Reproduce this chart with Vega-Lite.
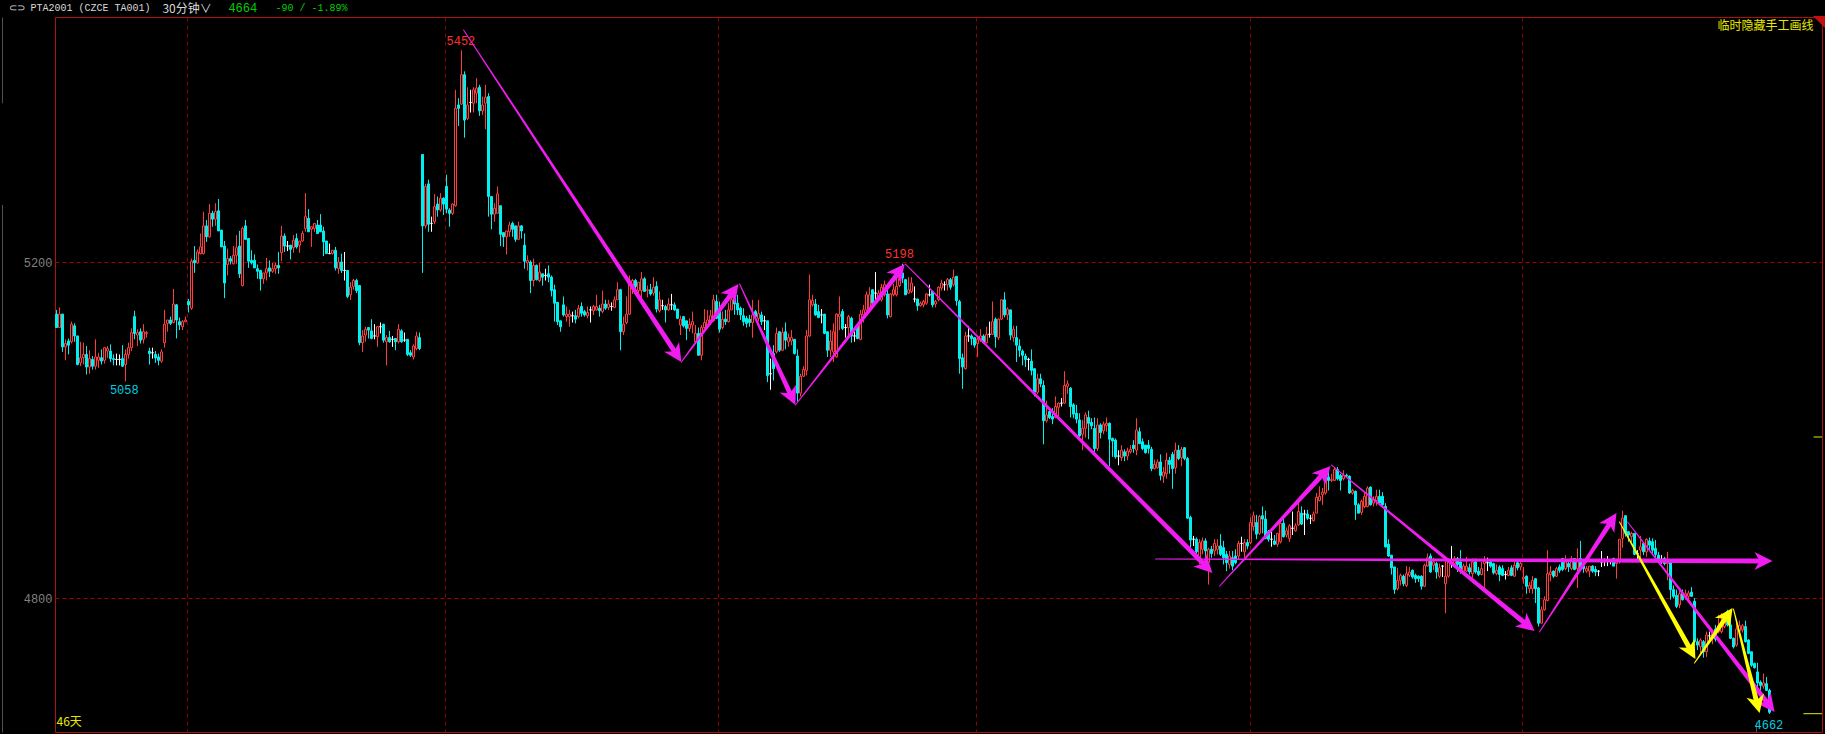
{"$schema":"https://vega.github.io/schema/vega-lite/v6.json","width":1767,"height":715,"autosize":"none","padding":{"left":55,"top":17,"right":3,"bottom":2},"background":"#000000","config":{"view":{"stroke":"#b01010","strokeWidth":1}},"resolve":{"scale":{"color":"independent"}},
"datasets":{"bars":[
{"t":0,"o":5138,"h":5143,"l":5122,"c":5122},{"t":1,"o":5122,"h":5146,"l":5122,"c":5138},{"t":2,"o":5138,"h":5138,"l":5093,"c":5099},{"t":3,"o":5099,"h":5108,"l":5083,"c":5103},{"t":4,"o":5106,"h":5109,"l":5090,"c":5101},{"t":5,"o":5105,"h":5129,"l":5103,"c":5126},{"t":6,"o":5124,"h":5127,"l":5105,"c":5112},{"t":7,"o":5112,"h":5112,"l":5077,"c":5078},{"t":8,"o":5080,"h":5105,"l":5076,"c":5086},{"t":9,"o":5086,"h":5104,"l":5078,"c":5090},
{"t":10,"o":5090,"h":5100,"l":5066,"c":5075},{"t":11,"o":5075,"h":5095,"l":5067,"c":5085},{"t":12,"o":5084,"h":5088,"l":5072,"c":5076},{"t":13,"o":5076,"h":5108,"l":5072,"c":5087},{"t":14,"o":5083,"h":5092,"l":5074,"c":5087},{"t":15,"o":5086,"h":5096,"l":5078,"c":5082},{"t":16,"o":5083,"h":5099,"l":5079,"c":5098},{"t":17,"o":5094,"h":5100,"l":5086,"c":5097},{"t":18,"o":5094,"h":5102,"l":5081,"c":5085},{"t":19,"o":5085,"h":5090,"l":5077,"c":5084},
{"t":20,"o":5084,"h":5091,"l":5077,"c":5084},{"t":21,"o":5084,"h":5090,"l":5077,"c":5084},{"t":22,"o":5085,"h":5101,"l":5075,"c":5076},{"t":23,"o":5078,"h":5096,"l":5058,"c":5090},{"t":24,"o":5090,"h":5104,"l":5085,"c":5098},{"t":25,"o":5098,"h":5121,"l":5094,"c":5116},{"t":26,"o":5135,"h":5142,"l":5108,"c":5115},{"t":27,"o":5113,"h":5120,"l":5100,"c":5116},{"t":28,"o":5117,"h":5121,"l":5103,"c":5107},{"t":29,"o":5108,"h":5126,"l":5103,"c":5117},
{"t":30,"o":5115,"h":5118,"l":5110,"c":5116},{"t":31,"o":5094,"h":5098,"l":5078,"c":5091},{"t":32,"o":5092,"h":5098,"l":5085,"c":5092},{"t":33,"o":5090,"h":5094,"l":5080,"c":5086},{"t":34,"o":5087,"h":5091,"l":5077,"c":5083},{"t":35,"o":5082,"h":5096,"l":5080,"c":5093},{"t":36,"o":5104,"h":5143,"l":5098,"c":5126},{"t":37,"o":5127,"h":5131,"l":5117,"c":5131},{"t":38,"o":5131,"h":5135,"l":5125,"c":5127},{"t":39,"o":5128,"h":5168,"l":5127,"c":5150},
{"t":40,"o":5149,"h":5150,"l":5109,"c":5131},{"t":41,"o":5129,"h":5134,"l":5119,"c":5125},{"t":42,"o":5123,"h":5131,"l":5119,"c":5129},{"t":43,"o":5129,"h":5135,"l":5128,"c":5131},{"t":44,"o":5153,"h":5156,"l":5140,"c":5149},{"t":45,"o":5145,"h":5204,"l":5143,"c":5201},{"t":46,"o":5202,"h":5219,"l":5187,"c":5199},{"t":47,"o":5199,"h":5215,"l":5198,"c":5212},{"t":48,"o":5210,"h":5234,"l":5209,"c":5218},{"t":49,"o":5210,"h":5260,"l":5209,"c":5243},
{"t":50,"o":5243,"h":5250,"l":5224,"c":5230},{"t":51,"o":5230,"h":5269,"l":5229,"c":5258},{"t":52,"o":5258,"h":5261,"l":5242,"c":5251},{"t":53,"o":5251,"h":5270,"l":5243,"c":5260},{"t":54,"o":5261,"h":5275,"l":5237,"c":5237},{"t":55,"o":5238,"h":5238,"l":5218,"c":5218},{"t":56,"o":5219,"h":5225,"l":5157,"c":5175},{"t":57,"o":5197,"h":5216,"l":5184,"c":5204},{"t":58,"o":5204,"h":5207,"l":5197,"c":5201},{"t":59,"o":5198,"h":5219,"l":5197,"c":5208},
{"t":60,"o":5208,"h":5232,"l":5198,"c":5217},{"t":61,"o":5219,"h":5237,"l":5181,"c":5186},{"t":62,"o":5172,"h":5242,"l":5171,"c":5240},{"t":63,"o":5243,"h":5250,"l":5227,"c":5227},{"t":64,"o":5228,"h":5228,"l":5193,"c":5201},{"t":65,"o":5202,"h":5214,"l":5197,"c":5199},{"t":66,"o":5202,"h":5209,"l":5193,"c":5193},{"t":67,"o":5192,"h":5197,"l":5180,"c":5189},{"t":68,"o":5190,"h":5190,"l":5166,"c":5180},{"t":69,"o":5180,"h":5187,"l":5174,"c":5187},
{"t":70,"o":5187,"h":5205,"l":5178,"c":5192},{"t":71,"o":5193,"h":5202,"l":5182,"c":5189},{"t":72,"o":5189,"h":5199,"l":5187,"c":5192},{"t":73,"o":5192,"h":5199,"l":5186,"c":5196},{"t":74,"o":5196,"h":5212,"l":5186,"c":5193},{"t":75,"o":5211,"h":5243,"l":5201,"c":5231},{"t":76,"o":5231,"h":5234,"l":5212,"c":5219},{"t":77,"o":5219,"h":5225,"l":5213,"c":5219},{"t":78,"o":5220,"h":5220,"l":5203,"c":5215},{"t":79,"o":5217,"h":5232,"l":5211,"c":5226},
{"t":80,"o":5228,"h":5234,"l":5216,"c":5218},{"t":81,"o":5220,"h":5225,"l":5211,"c":5225},{"t":82,"o":5225,"h":5237,"l":5224,"c":5234},{"t":83,"o":5240,"h":5282,"l":5236,"c":5254},{"t":84,"o":5252,"h":5263,"l":5236,"c":5236},{"t":85,"o":5239,"h":5242,"l":5218,"c":5242},{"t":86,"o":5240,"h":5246,"l":5236,"c":5246},{"t":87,"o":5244,"h":5250,"l":5234,"c":5234},{"t":88,"o":5244,"h":5257,"l":5236,"c":5236},{"t":89,"o":5237,"h":5242,"l":5207,"c":5224},
{"t":90,"o":5225,"h":5225,"l":5210,"c":5210},{"t":91,"o":5210,"h":5222,"l":5210,"c":5210},{"t":92,"o":5210,"h":5214,"l":5209,"c":5214},{"t":93,"o":5214,"h":5218,"l":5190,"c":5193},{"t":94,"o":5192,"h":5206,"l":5186,"c":5200},{"t":95,"o":5200,"h":5210,"l":5187,"c":5190},{"t":96,"o":5190,"h":5212,"l":5178,"c":5190},{"t":97,"o":5190,"h":5190,"l":5157,"c":5159},{"t":98,"o":5161,"h":5176,"l":5155,"c":5170},{"t":99,"o":5171,"h":5180,"l":5167,"c":5178},
{"t":100,"o":5178,"h":5180,"l":5163,"c":5166},{"t":101,"o":5172,"h":5172,"l":5101,"c":5104},{"t":102,"o":5104,"h":5119,"l":5093,"c":5112},{"t":103,"o":5113,"h":5123,"l":5105,"c":5120},{"t":104,"o":5122,"h":5122,"l":5109,"c":5119},{"t":105,"o":5118,"h":5132,"l":5108,"c":5109},{"t":106,"o":5112,"h":5126,"l":5108,"c":5112},{"t":107,"o":5111,"h":5124,"l":5099,"c":5123},{"t":108,"o":5123,"h":5128,"l":5115,"c":5123},{"t":109,"o":5126,"h":5126,"l":5104,"c":5107},
{"t":110,"o":5105,"h":5113,"l":5077,"c":5110},{"t":111,"o":5110,"h":5118,"l":5104,"c":5105},{"t":112,"o":5108,"h":5112,"l":5099,"c":5108},{"t":113,"o":5109,"h":5109,"l":5095,"c":5105},{"t":114,"o":5105,"h":5126,"l":5103,"c":5120},{"t":115,"o":5118,"h":5120,"l":5104,"c":5105},{"t":116,"o":5107,"h":5116,"l":5105,"c":5107},{"t":117,"o":5108,"h":5108,"l":5088,"c":5090},{"t":118,"o":5092,"h":5095,"l":5087,"c":5089},{"t":119,"o":5087,"h":5102,"l":5084,"c":5100},
{"t":120,"o":5097,"h":5117,"l":5095,"c":5112},{"t":121,"o":5110,"h":5116,"l":5095,"c":5097},{"t":122,"o":5328,"h":5328,"l":5187,"c":5243},{"t":123,"o":5243,"h":5293,"l":5240,"c":5290},{"t":124,"o":5293,"h":5298,"l":5236,"c":5245},{"t":125,"o":5246,"h":5254,"l":5236,"c":5246},{"t":126,"o":5248,"h":5281,"l":5245,"c":5266},{"t":127,"o":5269,"h":5278,"l":5254,"c":5262},{"t":128,"o":5262,"h":5282,"l":5260,"c":5276},{"t":129,"o":5276,"h":5277,"l":5256,"c":5269},
{"t":130,"o":5290,"h":5304,"l":5258,"c":5263},{"t":131,"o":5262,"h":5264,"l":5242,"c":5258},{"t":132,"o":5258,"h":5270,"l":5256,"c":5269},{"t":133,"o":5267,"h":5405,"l":5266,"c":5383},{"t":134,"o":5387,"h":5395,"l":5362,"c":5383},{"t":135,"o":5388,"h":5452,"l":5387,"c":5423},{"t":136,"o":5423,"h":5427,"l":5348,"c":5369},{"t":137,"o":5371,"h":5408,"l":5369,"c":5387},{"t":138,"o":5390,"h":5405,"l":5378,"c":5390},{"t":139,"o":5389,"h":5408,"l":5378,"c":5405},
{"t":140,"o":5401,"h":5419,"l":5389,"c":5407},{"t":141,"o":5408,"h":5411,"l":5374,"c":5380},{"t":142,"o":5380,"h":5397,"l":5375,"c":5387},{"t":143,"o":5389,"h":5411,"l":5358,"c":5396},{"t":144,"o":5397,"h":5401,"l":5254,"c":5278},{"t":145,"o":5278,"h":5278,"l":5239,"c":5257},{"t":146,"o":5257,"h":5270,"l":5248,"c":5264},{"t":147,"o":5258,"h":5290,"l":5258,"c":5281},{"t":148,"o":5267,"h":5267,"l":5219,"c":5233},{"t":149,"o":5235,"h":5235,"l":5218,"c":5230},
{"t":150,"o":5230,"h":5237,"l":5209,"c":5237},{"t":151,"o":5236,"h":5248,"l":5230,"c":5244},{"t":152,"o":5246,"h":5248,"l":5230,"c":5239},{"t":153,"o":5243,"h":5243,"l":5224,"c":5227},{"t":154,"o":5227,"h":5248,"l":5226,"c":5243},{"t":155,"o":5243,"h":5244,"l":5228,"c":5237},{"t":156,"o":5220,"h":5234,"l":5192,"c":5201},{"t":157,"o":5199,"h":5208,"l":5190,"c":5202},{"t":158,"o":5200,"h":5202,"l":5163,"c":5178},{"t":159,"o":5178,"h":5204,"l":5171,"c":5196},
{"t":160,"o":5196,"h":5197,"l":5178,"c":5179},{"t":161,"o":5178,"h":5199,"l":5176,"c":5188},{"t":162,"o":5186,"h":5186,"l":5172,"c":5182},{"t":163,"o":5184,"h":5192,"l":5178,"c":5184},{"t":164,"o":5186,"h":5196,"l":5176,"c":5182},{"t":165,"o":5182,"h":5184,"l":5159,"c":5166},{"t":166,"o":5167,"h":5173,"l":5129,"c":5151},{"t":167,"o":5152,"h":5152,"l":5125,"c":5129},{"t":168,"o":5130,"h":5130,"l":5117,"c":5123},{"t":169,"o":5149,"h":5159,"l":5135,"c":5137},
{"t":170,"o":5135,"h":5147,"l":5129,"c":5138},{"t":171,"o":5135,"h":5143,"l":5123,"c":5138},{"t":172,"o":5136,"h":5141,"l":5128,"c":5136},{"t":173,"o":5136,"h":5143,"l":5127,"c":5132},{"t":174,"o":5135,"h":5149,"l":5133,"c":5145},{"t":175,"o":5147,"h":5152,"l":5135,"c":5139},{"t":176,"o":5141,"h":5143,"l":5135,"c":5137},{"t":177,"o":5136,"h":5147,"l":5133,"c":5140},{"t":178,"o":5143,"h":5147,"l":5128,"c":5143},{"t":179,"o":5142,"h":5149,"l":5137,"c":5147},
{"t":180,"o":5143,"h":5161,"l":5142,"c":5147},{"t":181,"o":5145,"h":5149,"l":5135,"c":5142},{"t":182,"o":5141,"h":5166,"l":5139,"c":5150},{"t":183,"o":5150,"h":5155,"l":5143,"c":5145},{"t":184,"o":5146,"h":5155,"l":5143,"c":5150},{"t":185,"o":5147,"h":5152,"l":5142,"c":5147},{"t":186,"o":5146,"h":5159,"l":5145,"c":5155},{"t":187,"o":5155,"h":5176,"l":5155,"c":5167},{"t":188,"o":5167,"h":5168,"l":5095,"c":5117},{"t":189,"o":5117,"h":5135,"l":5113,"c":5126},
{"t":190,"o":5128,"h":5159,"l":5126,"c":5138},{"t":191,"o":5138,"h":5184,"l":5137,"c":5176},{"t":192,"o":5172,"h":5180,"l":5162,"c":5178},{"t":193,"o":5178,"h":5180,"l":5168,"c":5171},{"t":194,"o":5166,"h":5176,"l":5163,"c":5176},{"t":195,"o":5166,"h":5188,"l":5155,"c":5180},{"t":196,"o":5180,"h":5182,"l":5165,"c":5165},{"t":197,"o":5166,"h":5172,"l":5158,"c":5167},{"t":198,"o":5167,"h":5174,"l":5160,"c":5162},{"t":199,"o":5163,"h":5182,"l":5160,"c":5170},
{"t":200,"o":5171,"h":5177,"l":5140,"c":5144},{"t":201,"o":5142,"h":5165,"l":5140,"c":5155},{"t":202,"o":5148,"h":5155,"l":5143,"c":5148},{"t":203,"o":5147,"h":5149,"l":5128,"c":5143},{"t":204,"o":5143,"h":5157,"l":5142,"c":5150},{"t":205,"o":5149,"h":5162,"l":5143,"c":5149},{"t":206,"o":5149,"h":5152,"l":5142,"c":5143},{"t":207,"o":5144,"h":5144,"l":5132,"c":5133},{"t":208,"o":5125,"h":5136,"l":5113,"c":5132},{"t":209,"o":5135,"h":5135,"l":5122,"c":5124},
{"t":210,"o":5130,"h":5130,"l":5107,"c":5121},{"t":211,"o":5121,"h":5133,"l":5117,"c":5126},{"t":212,"o":5125,"h":5141,"l":5115,"c":5129},{"t":213,"o":5105,"h":5125,"l":5105,"c":5115},{"t":214,"o":5115,"h":5122,"l":5089,"c":5089},{"t":215,"o":5089,"h":5125,"l":5083,"c":5122},{"t":216,"o":5122,"h":5144,"l":5121,"c":5128},{"t":217,"o":5124,"h":5143,"l":5121,"c":5131},{"t":218,"o":5129,"h":5143,"l":5125,"c":5136},{"t":219,"o":5130,"h":5161,"l":5129,"c":5155},
{"t":220,"o":5153,"h":5161,"l":5132,"c":5133},{"t":221,"o":5143,"h":5153,"l":5116,"c":5120},{"t":222,"o":5122,"h":5141,"l":5120,"c":5132},{"t":223,"o":5132,"h":5143,"l":5125,"c":5129},{"t":224,"o":5129,"h":5151,"l":5128,"c":5143},{"t":225,"o":5143,"h":5163,"l":5143,"c":5155},{"t":226,"o":5158,"h":5169,"l":5137,"c":5150},{"t":227,"o":5151,"h":5161,"l":5137,"c":5143},{"t":228,"o":5145,"h":5147,"l":5131,"c":5137},{"t":229,"o":5136,"h":5145,"l":5124,"c":5129},
{"t":230,"o":5133,"h":5136,"l":5122,"c":5127},{"t":231,"o":5132,"h":5137,"l":5123,"c":5128},{"t":232,"o":5128,"h":5155,"l":5110,"c":5137},{"t":233,"o":5141,"h":5143,"l":5133,"c":5135},{"t":234,"o":5133,"h":5155,"l":5129,"c":5139},{"t":235,"o":5137,"h":5141,"l":5125,"c":5129},{"t":236,"o":5130,"h":5136,"l":5119,"c":5130},{"t":237,"o":5130,"h":5130,"l":5057,"c":5065},{"t":238,"o":5067,"h":5085,"l":5048,"c":5067},{"t":239,"o":5091,"h":5101,"l":5059,"c":5073},
{"t":240,"o":5093,"h":5122,"l":5091,"c":5115},{"t":241,"o":5117,"h":5117,"l":5093,"c":5095},{"t":242,"o":5095,"h":5122,"l":5094,"c":5116},{"t":243,"o":5117,"h":5128,"l":5096,"c":5107},{"t":244,"o":5105,"h":5115,"l":5099,"c":5110},{"t":245,"o":5106,"h":5119,"l":5101,"c":5110},{"t":246,"o":5108,"h":5108,"l":5090,"c":5091},{"t":247,"o":5088,"h":5096,"l":5034,"c":5044},{"t":248,"o":5044,"h":5067,"l":5040,"c":5064},{"t":249,"o":5064,"h":5076,"l":5063,"c":5072},
{"t":250,"o":5071,"h":5119,"l":5065,"c":5112},{"t":251,"o":5112,"h":5185,"l":5111,"c":5155},{"t":252,"o":5149,"h":5161,"l":5147,"c":5154},{"t":253,"o":5150,"h":5156,"l":5136,"c":5137},{"t":254,"o":5141,"h":5149,"l":5133,"c":5134},{"t":255,"o":5137,"h":5144,"l":5127,"c":5137},{"t":256,"o":5138,"h":5138,"l":5114,"c":5115},{"t":257,"o":5117,"h":5117,"l":5087,"c":5095},{"t":258,"o":5095,"h":5119,"l":5087,"c":5106},{"t":259,"o":5093,"h":5127,"l":5081,"c":5117},
{"t":260,"o":5087,"h":5139,"l":5086,"c":5138},{"t":261,"o":5135,"h":5159,"l":5119,"c":5138},{"t":262,"o":5141,"h":5144,"l":5119,"c":5121},{"t":263,"o":5122,"h":5126,"l":5110,"c":5122},{"t":264,"o":5122,"h":5137,"l":5111,"c":5135},{"t":265,"o":5133,"h":5135,"l":5104,"c":5112},{"t":266,"o":5112,"h":5117,"l":5105,"c":5112},{"t":267,"o":5124,"h":5126,"l":5108,"c":5109},{"t":268,"o":5108,"h":5143,"l":5107,"c":5138},{"t":269,"o":5137,"h":5149,"l":5128,"c":5143},
{"t":270,"o":5143,"h":5165,"l":5142,"c":5161},{"t":271,"o":5142,"h":5170,"l":5141,"c":5161},{"t":272,"o":5167,"h":5167,"l":5149,"c":5151},{"t":273,"o":5163,"h":5188,"l":5155,"c":5163},{"t":274,"o":5155,"h":5167,"l":5154,"c":5163},{"t":275,"o":5155,"h":5174,"l":5153,"c":5170},{"t":276,"o":5161,"h":5178,"l":5159,"c":5173},{"t":277,"o":5162,"h":5170,"l":5133,"c":5137},{"t":278,"o":5135,"h":5163,"l":5134,"c":5162},{"t":279,"o":5161,"h":5174,"l":5159,"c":5167},
{"t":280,"o":5161,"h":5183,"l":5159,"c":5171},{"t":281,"o":5172,"h":5185,"l":5170,"c":5180},{"t":282,"o":5187,"h":5198,"l":5175,"c":5181},{"t":283,"o":5179,"h":5180,"l":5161,"c":5161},{"t":284,"o":5163,"h":5182,"l":5162,"c":5167},{"t":285,"o":5165,"h":5182,"l":5163,"c":5175},{"t":286,"o":5156,"h":5171,"l":5152,"c":5156},{"t":287,"o":5156,"h":5156,"l":5142,"c":5148},{"t":288,"o":5148,"h":5153,"l":5147,"c":5151},{"t":289,"o":5149,"h":5155,"l":5146,"c":5153},
{"t":290,"o":5151,"h":5163,"l":5149,"c":5162},{"t":291,"o":5161,"h":5173,"l":5159,"c":5161},{"t":292,"o":5165,"h":5166,"l":5146,"c":5149},{"t":293,"o":5150,"h":5155,"l":5146,"c":5153},{"t":294,"o":5155,"h":5171,"l":5153,"c":5170},{"t":295,"o":5169,"h":5179,"l":5166,"c":5175},{"t":296,"o":5173,"h":5177,"l":5166,"c":5173},{"t":297,"o":5173,"h":5181,"l":5166,"c":5179},{"t":298,"o":5179,"h":5181,"l":5167,"c":5170},{"t":299,"o":5173,"h":5191,"l":5171,"c":5182},
{"t":300,"o":5183,"h":5183,"l":5148,"c":5154},{"t":301,"o":5153,"h":5155,"l":5067,"c":5085},{"t":302,"o":5086,"h":5091,"l":5049,"c":5075},{"t":303,"o":5073,"h":5117,"l":5072,"c":5112},{"t":304,"o":5112,"h":5124,"l":5105,"c":5112},{"t":305,"o":5112,"h":5114,"l":5101,"c":5109},{"t":306,"o":5110,"h":5110,"l":5098,"c":5101},{"t":307,"o":5103,"h":5110,"l":5087,"c":5108},{"t":308,"o":5107,"h":5120,"l":5105,"c":5112},{"t":309,"o":5112,"h":5114,"l":5103,"c":5104},
{"t":310,"o":5104,"h":5123,"l":5103,"c":5114},{"t":311,"o":5114,"h":5129,"l":5110,"c":5114},{"t":312,"o":5114,"h":5153,"l":5113,"c":5129},{"t":313,"o":5132,"h":5134,"l":5098,"c":5111},{"t":314,"o":5110,"h":5133,"l":5107,"c":5132},{"t":315,"o":5132,"h":5156,"l":5131,"c":5155},{"t":316,"o":5155,"h":5164,"l":5134,"c":5137},{"t":317,"o":5137,"h":5146,"l":5131,"c":5144},{"t":318,"o":5143,"h":5143,"l":5107,"c":5113},{"t":319,"o":5110,"h":5124,"l":5105,"c":5120},
{"t":320,"o":5110,"h":5124,"l":5081,"c":5101},{"t":321,"o":5100,"h":5108,"l":5087,"c":5095},{"t":322,"o":5094,"h":5096,"l":5077,"c":5089},{"t":323,"o":5088,"h":5091,"l":5075,"c":5084},{"t":324,"o":5084,"h":5086,"l":5071,"c":5084},{"t":325,"o":5082,"h":5096,"l":5065,"c":5071},{"t":326,"o":5073,"h":5073,"l":5040,"c":5045},{"t":327,"o":5045,"h":5067,"l":5043,"c":5061},{"t":328,"o":5061,"h":5067,"l":5051,"c":5055},{"t":329,"o":5053,"h":5059,"l":4983,"c":5011},
{"t":330,"o":5011,"h":5035,"l":5009,"c":5018},{"t":331,"o":5022,"h":5024,"l":5013,"c":5015},{"t":332,"o":5016,"h":5026,"l":5007,"c":5013},{"t":333,"o":5015,"h":5040,"l":5014,"c":5028},{"t":334,"o":5027,"h":5033,"l":5016,"c":5032},{"t":335,"o":5032,"h":5038,"l":5028,"c":5032},{"t":336,"o":5032,"h":5070,"l":5031,"c":5053},{"t":337,"o":5052,"h":5059,"l":5043,"c":5055},{"t":338,"o":5050,"h":5051,"l":5015,"c":5028},{"t":339,"o":5030,"h":5032,"l":5014,"c":5019},
{"t":340,"o":5020,"h":5030,"l":5008,"c":5013},{"t":341,"o":5012,"h":5020,"l":4992,"c":4993},{"t":342,"o":4995,"h":5012,"l":4976,"c":5002},{"t":343,"o":5002,"h":5021,"l":4991,"c":5018},{"t":344,"o":5015,"h":5023,"l":4989,"c":5008},{"t":345,"o":5009,"h":5014,"l":5001,"c":5005},{"t":346,"o":5002,"h":5015,"l":4971,"c":4978},{"t":347,"o":4978,"h":5014,"l":4975,"c":5006},{"t":348,"o":5006,"h":5008,"l":4990,"c":4997},{"t":349,"o":4999,"h":5010,"l":4995,"c":5007},
{"t":350,"o":5005,"h":5015,"l":4998,"c":5008},{"t":351,"o":5008,"h":5009,"l":4957,"c":4989},{"t":352,"o":4990,"h":4991,"l":4968,"c":4987},{"t":353,"o":4988,"h":4990,"l":4966,"c":4968},{"t":354,"o":4969,"h":4976,"l":4958,"c":4969},{"t":355,"o":4967,"h":4982,"l":4963,"c":4976},{"t":356,"o":4974,"h":4977,"l":4963,"c":4969},{"t":357,"o":4969,"h":4979,"l":4964,"c":4975},{"t":358,"o":4974,"h":4982,"l":4972,"c":4977},{"t":359,"o":4982,"h":4988,"l":4973,"c":4978},
{"t":360,"o":4976,"h":5014,"l":4970,"c":5000},{"t":361,"o":4998,"h":5003,"l":4983,"c":4984},{"t":362,"o":4986,"h":4990,"l":4976,"c":4978},{"t":363,"o":4982,"h":4982,"l":4972,"c":4973},{"t":364,"o":4982,"h":4988,"l":4972,"c":4978},{"t":365,"o":4977,"h":4980,"l":4951,"c":4954},{"t":366,"o":4954,"h":4965,"l":4953,"c":4959},{"t":367,"o":4955,"h":4965,"l":4954,"c":4962},{"t":368,"o":4962,"h":4971,"l":4940,"c":4946},{"t":369,"o":4945,"h":4956,"l":4937,"c":4950},
{"t":370,"o":4948,"h":4973,"l":4942,"c":4964},{"t":371,"o":4964,"h":4968,"l":4948,"c":4959},{"t":372,"o":4971,"h":4974,"l":4930,"c":4954},{"t":373,"o":4955,"h":4985,"l":4948,"c":4976},{"t":374,"o":4976,"h":4982,"l":4964,"c":4966},{"t":375,"o":4967,"h":4980,"l":4957,"c":4977},{"t":376,"o":4979,"h":4979,"l":4964,"c":4966},{"t":377,"o":4966,"h":4968,"l":4895,"c":4895},{"t":378,"o":4896,"h":4898,"l":4860,"c":4869},{"t":379,"o":4870,"h":4874,"l":4862,"c":4870},
{"t":380,"o":4870,"h":4872,"l":4845,"c":4855},{"t":381,"o":4845,"h":4870,"l":4840,"c":4866},{"t":382,"o":4858,"h":4872,"l":4852,"c":4868},{"t":383,"o":4868,"h":4871,"l":4848,"c":4856},{"t":384,"o":4842,"h":4860,"l":4816,"c":4858},{"t":385,"o":4858,"h":4862,"l":4848,"c":4853},{"t":386,"o":4856,"h":4870,"l":4850,"c":4865},{"t":387,"o":4858,"h":4870,"l":4852,"c":4862},{"t":388,"o":4862,"h":4876,"l":4850,"c":4852},{"t":389,"o":4860,"h":4868,"l":4840,"c":4848},
{"t":390,"o":4852,"h":4856,"l":4832,"c":4842},{"t":391,"o":4840,"h":4856,"l":4835,"c":4850},{"t":392,"o":4848,"h":4856,"l":4833,"c":4838},{"t":393,"o":4850,"h":4858,"l":4840,"c":4842},{"t":394,"o":4850,"h":4868,"l":4846,"c":4865},{"t":395,"o":4865,"h":4873,"l":4855,"c":4865},{"t":396,"o":4855,"h":4870,"l":4848,"c":4866},{"t":397,"o":4866,"h":4870,"l":4858,"c":4862},{"t":398,"o":4866,"h":4896,"l":4864,"c":4890},{"t":399,"o":4885,"h":4903,"l":4880,"c":4898},
{"t":400,"o":4890,"h":4899,"l":4870,"c":4876},{"t":401,"o":4877,"h":4899,"l":4875,"c":4897},{"t":402,"o":4898,"h":4909,"l":4877,"c":4894},{"t":403,"o":4894,"h":4904,"l":4870,"c":4871},{"t":404,"o":4879,"h":4881,"l":4867,"c":4870},{"t":405,"o":4870,"h":4879,"l":4861,"c":4870},{"t":406,"o":4868,"h":4875,"l":4863,"c":4864},{"t":407,"o":4864,"h":4877,"l":4861,"c":4877},{"t":408,"o":4867,"h":4890,"l":4865,"c":4889},{"t":409,"o":4889,"h":4895,"l":4872,"c":4873},
{"t":410,"o":4875,"h":4884,"l":4872,"c":4880},{"t":411,"o":4871,"h":4888,"l":4867,"c":4886},{"t":412,"o":4883,"h":4903,"l":4875,"c":4883},{"t":413,"o":4880,"h":4889,"l":4879,"c":4886},{"t":414,"o":4887,"h":4915,"l":4886,"c":4903},{"t":415,"o":4901,"h":4909,"l":4887,"c":4888},{"t":416,"o":4900,"h":4905,"l":4875,"c":4900},{"t":417,"o":4900,"h":4905,"l":4893,"c":4895},{"t":418,"o":4895,"h":4899,"l":4888,"c":4895},{"t":419,"o":4892,"h":4903,"l":4891,"c":4900},
{"t":420,"o":4901,"h":4925,"l":4901,"c":4920},{"t":421,"o":4916,"h":4933,"l":4915,"c":4921},{"t":422,"o":4923,"h":4931,"l":4911,"c":4926},{"t":423,"o":4925,"h":4944,"l":4923,"c":4942},{"t":424,"o":4944,"h":4956,"l":4928,"c":4940},{"t":425,"o":4940,"h":4948,"l":4938,"c":4941},{"t":426,"o":4940,"h":4956,"l":4940,"c":4953},{"t":427,"o":4953,"h":4956,"l":4940,"c":4942},{"t":428,"o":4946,"h":4948,"l":4928,"c":4940},{"t":429,"o":4942,"h":4952,"l":4940,"c":4946},
{"t":430,"o":4946,"h":4948,"l":4944,"c":4945},{"t":431,"o":4945,"h":4946,"l":4924,"c":4925},{"t":432,"o":4925,"h":4930,"l":4923,"c":4928},{"t":433,"o":4927,"h":4928,"l":4893,"c":4911},{"t":434,"o":4911,"h":4913,"l":4901,"c":4901},{"t":435,"o":4902,"h":4917,"l":4899,"c":4915},{"t":436,"o":4909,"h":4925,"l":4907,"c":4921},{"t":437,"o":4909,"h":4933,"l":4908,"c":4931},{"t":438,"o":4932,"h":4933,"l":4910,"c":4911},{"t":439,"o":4913,"h":4921,"l":4909,"c":4917},
{"t":440,"o":4916,"h":4929,"l":4910,"c":4921},{"t":441,"o":4921,"h":4929,"l":4911,"c":4913},{"t":442,"o":4921,"h":4926,"l":4910,"c":4911},{"t":443,"o":4909,"h":4913,"l":4860,"c":4861},{"t":444,"o":4864,"h":4870,"l":4849,"c":4850},{"t":445,"o":4851,"h":4851,"l":4828,"c":4836},{"t":446,"o":4837,"h":4837,"l":4805,"c":4810},{"t":447,"o":4811,"h":4836,"l":4809,"c":4821},{"t":448,"o":4821,"h":4829,"l":4815,"c":4827},{"t":449,"o":4826,"h":4828,"l":4814,"c":4817},
{"t":450,"o":4815,"h":4838,"l":4813,"c":4829},{"t":451,"o":4827,"h":4837,"l":4825,"c":4831},{"t":452,"o":4833,"h":4834,"l":4823,"c":4825},{"t":453,"o":4827,"h":4829,"l":4818,"c":4823},{"t":454,"o":4826,"h":4827,"l":4819,"c":4823},{"t":455,"o":4826,"h":4827,"l":4810,"c":4814},{"t":456,"o":4814,"h":4841,"l":4813,"c":4839},{"t":457,"o":4838,"h":4853,"l":4837,"c":4848},{"t":458,"o":4850,"h":4853,"l":4830,"c":4831},{"t":459,"o":4839,"h":4848,"l":4833,"c":4843},
{"t":460,"o":4841,"h":4843,"l":4823,"c":4831},{"t":461,"o":4826,"h":4841,"l":4824,"c":4836},{"t":462,"o":4838,"h":4839,"l":4825,"c":4838},{"t":463,"o":4817,"h":4849,"l":4782,"c":4826},{"t":464,"o":4826,"h":4847,"l":4824,"c":4845},{"t":465,"o":4842,"h":4862,"l":4836,"c":4842},{"t":466,"o":4841,"h":4850,"l":4839,"c":4847},{"t":467,"o":4847,"h":4849,"l":4831,"c":4840},{"t":468,"o":4843,"h":4857,"l":4829,"c":4834},{"t":469,"o":4832,"h":4841,"l":4828,"c":4838},
{"t":470,"o":4832,"h":4849,"l":4831,"c":4838},{"t":471,"o":4836,"h":4841,"l":4828,"c":4831},{"t":472,"o":4829,"h":4847,"l":4824,"c":4843},{"t":473,"o":4843,"h":4847,"l":4829,"c":4831},{"t":474,"o":4832,"h":4837,"l":4826,"c":4828},{"t":475,"o":4828,"h":4843,"l":4827,"c":4835},{"t":476,"o":4841,"h":4850,"l":4811,"c":4844},{"t":477,"o":4842,"h":4848,"l":4832,"c":4842},{"t":478,"o":4843,"h":4845,"l":4836,"c":4838},{"t":479,"o":4841,"h":4842,"l":4828,"c":4830},
{"t":480,"o":4829,"h":4840,"l":4827,"c":4833},{"t":481,"o":4837,"h":4839,"l":4820,"c":4828},{"t":482,"o":4835,"h":4839,"l":4826,"c":4827},{"t":483,"o":4828,"h":4832,"l":4822,"c":4828},{"t":484,"o":4827,"h":4837,"l":4826,"c":4833},{"t":485,"o":4836,"h":4839,"l":4826,"c":4827},{"t":486,"o":4826,"h":4843,"l":4825,"c":4839},{"t":487,"o":4842,"h":4844,"l":4833,"c":4836},{"t":488,"o":4837,"h":4843,"l":4833,"c":4841},{"t":489,"o":4823,"h":4837,"l":4817,"c":4825},
{"t":490,"o":4826,"h":4827,"l":4805,"c":4814},{"t":491,"o":4811,"h":4819,"l":4806,"c":4815},{"t":492,"o":4811,"h":4826,"l":4805,"c":4821},{"t":493,"o":4823,"h":4824,"l":4794,"c":4811},{"t":494,"o":4812,"h":4813,"l":4766,"c":4770},{"t":495,"o":4770,"h":4790,"l":4770,"c":4786},{"t":496,"o":4786,"h":4802,"l":4785,"c":4798},{"t":497,"o":4797,"h":4857,"l":4796,"c":4829},{"t":498,"o":4828,"h":4838,"l":4820,"c":4831},{"t":499,"o":4832,"h":4833,"l":4824,"c":4826},
{"t":500,"o":4826,"h":4837,"l":4825,"c":4835},{"t":501,"o":4837,"h":4840,"l":4830,"c":4833},{"t":502,"o":4847,"h":4847,"l":4832,"c":4834},{"t":503,"o":4835,"h":4851,"l":4833,"c":4843},{"t":504,"o":4841,"h":4843,"l":4831,"c":4837},{"t":505,"o":4835,"h":4850,"l":4833,"c":4847},{"t":506,"o":4847,"h":4847,"l":4833,"c":4834},{"t":507,"o":4835,"h":4859,"l":4812,"c":4846},{"t":508,"o":4847,"h":4868,"l":4834,"c":4834},{"t":509,"o":4838,"h":4839,"l":4830,"c":4835},
{"t":510,"o":4832,"h":4838,"l":4830,"c":4835},{"t":511,"o":4832,"h":4838,"l":4825,"c":4838},{"t":512,"o":4838,"h":4839,"l":4830,"c":4832},{"t":513,"o":4834,"h":4838,"l":4826,"c":4831},{"t":514,"o":4832,"h":4833,"l":4826,"c":4832},{"t":515,"o":4843,"h":4856,"l":4837,"c":4843},{"t":516,"o":4844,"h":4847,"l":4838,"c":4844},{"t":517,"o":4844,"h":4850,"l":4838,"c":4844},{"t":518,"o":4844,"h":4846,"l":4840,"c":4844},{"t":519,"o":4847,"h":4848,"l":4838,"c":4838},
{"t":520,"o":4841,"h":4847,"l":4823,"c":4843},{"t":521,"o":4845,"h":4870,"l":4841,"c":4870},{"t":522,"o":4871,"h":4904,"l":4860,"c":4895},{"t":523,"o":4898,"h":4898,"l":4873,"c":4877},{"t":524,"o":4879,"h":4879,"l":4867,"c":4875},{"t":525,"o":4873,"h":4879,"l":4866,"c":4877},{"t":526,"o":4877,"h":4877,"l":4851,"c":4852},{"t":527,"o":4853,"h":4857,"l":4846,"c":4853},{"t":528,"o":4857,"h":4874,"l":4847,"c":4861},{"t":529,"o":4865,"h":4866,"l":4851,"c":4855},
{"t":530,"o":4855,"h":4871,"l":4849,"c":4870},{"t":531,"o":4868,"h":4872,"l":4857,"c":4863},{"t":532,"o":4867,"h":4871,"l":4853,"c":4857},{"t":533,"o":4859,"h":4869,"l":4847,"c":4852},{"t":534,"o":4851,"h":4855,"l":4843,"c":4845},{"t":535,"o":4846,"h":4851,"l":4841,"c":4846},{"t":536,"o":4847,"h":4849,"l":4839,"c":4841},{"t":537,"o":4841,"h":4855,"l":4821,"c":4844},{"t":538,"o":4842,"h":4842,"l":4798,"c":4810},{"t":539,"o":4810,"h":4815,"l":4800,"c":4802},
{"t":540,"o":4803,"h":4810,"l":4788,"c":4790},{"t":541,"o":4792,"h":4809,"l":4788,"c":4805},{"t":542,"o":4806,"h":4810,"l":4797,"c":4798},{"t":543,"o":4802,"h":4810,"l":4798,"c":4805},{"t":544,"o":4802,"h":4809,"l":4797,"c":4806},{"t":545,"o":4807,"h":4813,"l":4802,"c":4802},{"t":546,"o":4796,"h":4800,"l":4744,"c":4748},{"t":547,"o":4748,"h":4752,"l":4738,"c":4744},{"t":548,"o":4742,"h":4752,"l":4732,"c":4750},{"t":549,"o":4748,"h":4750,"l":4729,"c":4736},
{"t":550,"o":4736,"h":4760,"l":4730,"c":4756},{"t":551,"o":4755,"h":4760,"l":4748,"c":4755},{"t":552,"o":4752,"h":4760,"l":4745,"c":4758},{"t":553,"o":4763,"h":4768,"l":4748,"c":4751},{"t":554,"o":4760,"h":4780,"l":4758,"c":4767},{"t":555,"o":4760,"h":4782,"l":4758,"c":4771},{"t":556,"o":4766,"h":4774,"l":4764,"c":4772},{"t":557,"o":4784,"h":4786,"l":4766,"c":4768},{"t":558,"o":4768,"h":4786,"l":4751,"c":4752},{"t":559,"o":4752,"h":4753,"l":4740,"c":4742},
{"t":560,"o":4744,"h":4774,"l":4742,"c":4763},{"t":561,"o":4761,"h":4773,"l":4759,"c":4767},{"t":562,"o":4762,"h":4769,"l":4759,"c":4767},{"t":563,"o":4766,"h":4773,"l":4747,"c":4748},{"t":564,"o":4750,"h":4751,"l":4733,"c":4734},{"t":565,"o":4736,"h":4736,"l":4718,"c":4720},{"t":566,"o":4722,"h":4723,"l":4716,"c":4717},{"t":567,"o":4712,"h":4723,"l":4691,"c":4699},{"t":568,"o":4700,"h":4702,"l":4690,"c":4696},{"t":569,"o":4695,"h":4710,"l":4692,"c":4699},
{"t":570,"o":4698,"h":4706,"l":4690,"c":4690},{"t":571,"o":4690,"h":4692,"l":4662,"c":4664}
],
"lines":[
{"a":"A","k":"pink","n":0,"t":135.7,"p":5476.2},{"a":"A","k":"pink","n":1,"t":205.8,"p":5094.9},
{"a":"B","k":"pink","n":0,"t":208.3,"p":5081},{"a":"B","k":"pink","n":1,"t":225,"p":5162.3},
{"a":"C","k":"pink","n":0,"t":227.7,"p":5173.8},{"a":"C","k":"pink","n":1,"t":244.5,"p":5043.8},
{"a":"D","k":"pink","n":0,"t":246.3,"p":5029.8},{"a":"D","k":"pink","n":1,"t":280.3,"p":5185.4},
{"a":"E","k":"pink","n":0,"t":283,"p":5197.6},{"a":"E","k":"pink","n":1,"t":382.1,"p":4841.6},
{"a":"F","k":"pink","n":0,"t":387.7,"p":4814.3},{"a":"F","k":"pink","n":1,"t":421.5,"p":4944.9},
{"a":"G","k":"pink","n":0,"t":425,"p":4958.3},{"a":"G","k":"pink","n":1,"t":489.1,"p":4771.2},
{"a":"H","k":"pink","n":0,"t":494.3,"p":4759.5},{"a":"H","k":"pink","n":1,"t":517.5,"p":4887.1},
{"a":"I","k":"pink","n":0,"t":523.7,"p":4890.5},{"a":"I","k":"pink","n":1,"t":569.8,"p":4677.4},
{"a":"J","k":"pink","n":0,"t":366.3,"p":4846.4},{"a":"J","k":"pink","n":1,"t":567.3,"p":4844.2},
{"a":"K","k":"gold","n":0,"t":521,"p":4890.5},{"a":"K","k":"gold","n":1,"t":544.1,"p":4741.9},
{"a":"L","k":"gold","n":0,"t":546,"p":4722.6},{"a":"L","k":"gold","n":1,"t":556.6,"p":4777.4},
{"a":"M","k":"gold","n":0,"t":559,"p":4786.9},{"a":"M","k":"gold","n":1,"t":566.6,"p":4678.1}
],
"heads":[
{"k":"pink","t0":135.7,"p0":5476.2,"t":208.3,"p":5081},{"k":"pink","t0":208.3,"p0":5081,"t":227.3,"p":5173.8},{"k":"pink","t0":227.7,"p0":5173.8,"t":246.3,"p":5029.8},{"k":"pink","t0":246.3,"p0":5029.8,"t":282.7,"p":5197.6},{"k":"pink","t0":283,"p0":5197.6,"t":385.3,"p":4829.8},{"k":"pink","t0":387.7,"p0":4814.3,"t":424.7,"p":4957.1},{"k":"pink","t0":425,"p0":4958.3,"t":492.7,"p":4760.7},{"k":"pink","t0":494.3,"p0":4759.5,"t":520,"p":4901.2},{"k":"pink","t0":523.7,"p0":4890.5,"t":572.7,"p":4664.3},{"k":"pink","t0":366.3,"p0":4846.4,"t":572,"p":4844},{"k":"gold","t0":521,"p0":4890.5,"t":546.3,"p":4727.4},{"k":"gold","t0":546,"p0":4722.6,"t":558.7,"p":4788.1},{"k":"gold","t0":559,"p0":4786.9,"t":567.7,"p":4663}
],
"notes":[
{"g":"small","k":"title","t":-8.67,"p":5502,"s":"PTA2001 (CZCE TA001)"},{"g":"small","k":"change","t":73,"p":5502,"s":"-90 / -1.89%"},{"g":"small","k":"title","t":-16,"p":5502,"s":"⊂⊃"},
{"g":"large","k":"change","t":57.3,"p":5502,"s":"4664"},{"g":"large","k":"high","t":130,"p":5463,"s":"5452"},{"g":"large","k":"high","t":276.2,"p":5209.5,"s":"5198"},{"g":"large","k":"low","t":17.8,"p":5047.6,"s":"5058"},{"g":"large","k":"low","t":566,"p":4649,"s":"4662"},
{"g":"cjk","k":"title","t":35.3,"p":5501,"s":"30分钟∨"},{"g":"cjk","k":"note","t":553.7,"p":5481,"s":"临时隐藏手工画线"},{"g":"cjk","k":"note","t":0,"p":4652.4,"s":"46天"},{"g":"cjk","k":"frame","t":585.4,"p":5484,"s":"◥"}
],
"marks":[
{"k":"note","t":585.7,"t2":588.5,"p":4991.7,"p2":4991.7},{"k":"note","t":582.3,"t2":588.5,"p":4662.3,"p2":4662.3},{"k":"dim","t":566.67,"t2":566.67,"p":4652,"p2":4640},{"k":"dim","t":-18,"t2":-18,"p":5491,"p2":5389},{"k":"dim","t":-18,"t2":-18,"p":5268,"p2":4640}
]},
"layer":[
{"data":{"name":"bars"},"mark":{"type":"rule","strokeWidth":1},"encoding":{
"x":{"field":"t","type":"quantitative","scale":{"domain":[-0.5,588.5],"nice":false,"zero":false,"padding":0},"axis":{"values":[43.6,129.5,220.5,306.5,397.8,488.5],"labels":false,"ticks":false,"domain":false,"title":null,"grid":true,"gridColor":"#8f0000","gridDash":[4,4],"gridWidth":1}},
"y":{"field":"h","type":"quantitative","scale":{"domain":[4640.5,5491.7],"nice":false,"zero":false,"padding":0},"axis":{"values":[4800,5200],"format":"d","title":null,"ticks":false,"domain":false,"labelPadding":3,"labelColor":"#808080","labelFont":"Liberation Mono","labelFontSize":12,"grid":true,"gridColor":"#a00000","gridDash":[4,3],"gridWidth":1}},
"y2":{"field":"l"},
"color":{"condition":[{"test":"datum.c>datum.o","value":"#ff3c3c"},{"test":"datum.c==datum.o","value":"#ffffff"}],"value":"#00f0f0"}}},
{"data":{"name":"bars"},"mark":{"type":"bar","size":2,"strokeWidth":1},"encoding":{
"x":{"field":"t","type":"quantitative"},
"y":{"field":"o","type":"quantitative"},"y2":{"field":"c"},
"fill":{"condition":[{"test":"datum.c>datum.o","value":"#000000"},{"test":"datum.c==datum.o","value":"#ffffff"}],"value":"#00f0f0"},
"stroke":{"condition":[{"test":"datum.c>datum.o","value":"#ff3c3c"},{"test":"datum.c==datum.o","value":"#ffffff"}],"value":"#00f0f0"}}},
{"data":{"name":"marks"},"mark":{"type":"rule","strokeWidth":1},"encoding":{
"x":{"field":"t","type":"quantitative"},"x2":{"field":"t2"},"y":{"field":"p","type":"quantitative"},"y2":{"field":"p2"},
"color":{"field":"k","type":"nominal","legend":null,"scale":{"domain":["note","dim"],"range":["#e8e800","#505050"]}}}},
{"data":{"name":"lines"},"mark":{"type":"trail"},"encoding":{
"x":{"field":"t","type":"quantitative"},"y":{"field":"p","type":"quantitative"},"detail":{"field":"a"},"order":{"field":"n"},
"size":{"field":"n","type":"quantitative","legend":null,"scale":{"domain":[0,1],"range":[1,5]}},
"color":{"field":"k","type":"nominal","legend":null,"scale":{"domain":["pink","gold"],"range":["#f01cf0","#ffff00"]}}}},
{"data":{"name":"heads"},"transform":[{"calculate":"atan2((datum.t-datum.t0)*3,(datum.p-datum.p0)*0.84)*180/PI","as":"dir"}],"mark":{"type":"point","filled":true,"opacity":1,"size":1300,"shape":"M0,0 L0.5,1 L0,0.72 L-0.5,1 Z"},"encoding":{
"x":{"field":"t","type":"quantitative"},"y":{"field":"p","type":"quantitative"},"angle":{"field":"dir","type":"quantitative","scale":null},
"color":{"field":"k","type":"nominal","legend":null,"scale":{"domain":["pink","gold"],"range":["#f01cf0","#ffff00"]}}}},
{"data":{"name":"notes"},"transform":[{"filter":"datum.g=='small'"}],"mark":{"type":"text","align":"left","baseline":"middle","font":"Liberation Mono","fontSize":10},"encoding":{
"x":{"field":"t","type":"quantitative"},"y":{"field":"p","type":"quantitative"},"text":{"field":"s"},
"color":{"field":"k","type":"nominal","legend":null,"scale":{"domain":["title","change"],"range":["#d8d8d8","#00d000"]}}}},
{"data":{"name":"notes"},"transform":[{"filter":"datum.g=='large'"}],"mark":{"type":"text","align":"left","baseline":"middle","font":"Liberation Mono","fontSize":12},"encoding":{
"x":{"field":"t","type":"quantitative"},"y":{"field":"p","type":"quantitative"},"text":{"field":"s"},
"color":{"field":"k","type":"nominal","legend":null,"scale":{"domain":["change","high","low"],"range":["#00d000","#ff3030","#00d0e0"]}}}},
{"data":{"name":"notes"},"transform":[{"filter":"datum.g=='cjk'"}],"mark":{"type":"text","align":"left","baseline":"middle","font":"Noto Sans CJK SC","fontSize":12},"encoding":{
"x":{"field":"t","type":"quantitative"},"y":{"field":"p","type":"quantitative"},"text":{"field":"s"},
"color":{"field":"k","type":"nominal","legend":null,"scale":{"domain":["title","note","frame"],"range":["#d8d8d8","#e8e800","#c01010"]}}}}
]}
